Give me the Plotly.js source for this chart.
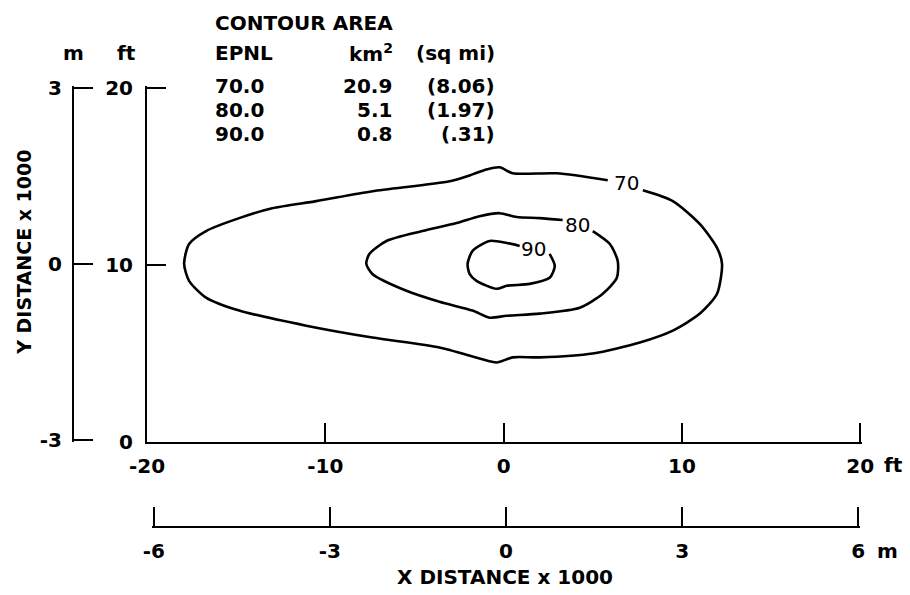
<!DOCTYPE html>
<html>
<head>
<meta charset="utf-8">
<script src="https://cdn.plot.ly/plotly-3.0.1.min.js"></script>
<style>html,body{margin:0;padding:0;background:#fff;}#chart{width:910px;height:595px;}</style>
</head>
<body>
<div id="chart"></div>
<script>
// EPNL 70 contour (x, y in thousands of ft)
var c70x = [7.81, 9.49, 11.01, 11.97, 12.25, 11.97, 11.01, 9.49, 7.64, 5.0, 2.02, 0.51, -0.39, -1.35, -3.6, -7.36, -11.07, -14.83, -16.69, -17.64, -17.92, -17.64, -16.69, -14.83, -12.98, -10.51, -7.36, -3.03, -1.74, -0.96, -0.22, 0.51, 2.98, 5.84];
var c70y = [14.21, 13.6, 12.3, 10.96, 10.06, 8.37, 7.25, 6.29, 5.62, 5.0, 4.78, 4.78, 4.49, 4.72, 5.34, 5.9, 6.57, 7.42, 8.15, 9.1, 10.06, 11.18, 11.91, 12.64, 13.2, 13.6, 14.16, 14.72, 15.11, 15.39, 15.51, 15.17, 15.17, 14.78];
// EPNL 80 contour
var c80x = [5.0, 5.96, 6.4, 6.35, 5.56, 4.27, 2.02, 0.17, -0.79, -1.74, -3.6, -5.45, -7.36, -7.7, -7.53, -6.57, -4.55, -2.64, -1.35, -0.22, 0.73, 2.02, 3.31];
var c80y = [11.91, 11.18, 10.22, 9.27, 8.37, 7.58, 7.25, 7.13, 7.02, 7.42, 7.92, 8.54, 9.49, 10.06, 10.62, 11.35, 11.91, 12.36, 12.75, 12.92, 12.7, 12.64, 12.53];
// EPNL 90 contour
var c90x = [2.58, 2.87, 2.58, 1.46, 0.17, -0.39, -1.52, -1.91, -2.02, -1.74, -0.79, 0.17, 0.9];
var c90y = [10.62, 9.94, 9.27, 8.93, 8.82, 8.65, 9.1, 9.49, 10.06, 10.79, 11.35, 11.24, 11.07];

// contour area table
var epnl = ["70.0", "80.0", "90.0"];
var areaKm2 = ["20.9", "5.1", "0.8"];
var areaSqMi = ["(8.06)", "(1.97)", "(.31)"];
var contourLabels = ["70", "80", "90"];

// axis ticks
var xFtTicks = [-20, -10, 0, 10, 20];
var xFtText = ["-20", "-10", "0", "10", "20"];
var xMTicks = [-6, -3, 0, 3, 6];
var xMText = ["-6", "-3", "0", "3", "6"];
var yFtTicks = [0, 10, 20];
var yFtText = ["0", "10", "20"];
var yMTicks = [-3, 0, 3];
var yMText = ["-3", "0", "3"];

var FONT = "DejaVu Sans";
var bold = {family: FONT, size: 20, color: "#000", weight: "bold"};

var lineStyle = {color: "#000", width: 2.6, shape: "spline", smoothing: 0.7};
var traces = [
  {x: c70x, y: c70y, type: "scatter", mode: "lines", line: lineStyle, hoverinfo: "skip"},
  {x: c80x, y: c80y, type: "scatter", mode: "lines", line: lineStyle, hoverinfo: "skip"},
  {x: c90x, y: c90y, type: "scatter", mode: "lines", line: lineStyle, hoverinfo: "skip"},
  // empty trace so that the metre axes are drawn
  {x: [], y: [], type: "scatter", mode: "lines", xaxis: "x2", yaxis: "y2", hoverinfo: "skip"}
];

function ann(text, x, y, xanchor, extra) {
  var a = {text: text, x: x, y: y, xref: "paper", yref: "paper", xanchor: xanchor, yanchor: "middle",
           showarrow: false, font: bold};
  for (var k in extra) a[k] = extra[k];
  return a;
}

var rowsY = [1.0, 0.9456, 0.8912];
var annotations = [
  ann("CONTOUR AREA", 0.1774, 1.1429, "left"),
  ann("EPNL", 0.1774, 1.0748, "left"),
  ann("km<sup>2</sup>", 0.3473, 1.0748, "left"),
  ann("(sq mi)", 0.5374, 1.0748, "right"),
  ann("m", 0.0, 1.0748, "center"),
  ann("ft", 0.0684, 1.0748, "center"),
  ann("ft", 1.0393, 0.1406, "center"),
  ann("m", 1.0317, -0.0544, "center"),
  ann("X DISTANCE x 1000", 0.5475, -0.1134, "center"),
  ann("Y DISTANCE x 1000", -0.062, 0.622, "center", {textangle: -90, font: {family: FONT, size: 19, color: "#000", weight: "bold"}})
];
for (var i = 0; i < epnl.length; i++) {
  annotations.push(ann(epnl[i], 0.1774, rowsY[i], "left"));
  annotations.push(ann(areaKm2[i], 0.4068, rowsY[i], "right"));
  annotations.push(ann(areaSqMi[i], 0.5374, rowsY[i], "right"));
}
var labelPos = [[6.91, 14.6], [4.16, 12.25], [1.69, 10.9]];
for (var j = 0; j < contourLabels.length; j++) {
  annotations.push({text: contourLabels[j], x: labelPos[j][0], y: labelPos[j][1], xref: "x", yref: "y",
    showarrow: false, xanchor: "center", yanchor: "middle",
    font: {family: FONT, size: 20, color: "#000"}});
}

var axisCommon = {showline: true, linecolor: "#000", linewidth: 2, ticks: "inside", ticklen: 19,
  tickwidth: 2, tickcolor: "#000", showgrid: false, zeroline: false, tickmode: "array",
  tickfont: bold, fixedrange: true};

function ax(extra) { var o = {}; for (var k in axisCommon) o[k] = axisCommon[k]; for (var k2 in extra) o[k2] = extra[k2]; return o; }

var layout = {
  width: 910, height: 595,
  margin: {l: 73, r: 48, t: 86, b: 68, pad: 0},
  paper_bgcolor: "#fff", plot_bgcolor: "rgba(0,0,0,0)",
  showlegend: false, hovermode: false,
  xaxis: ax({domain: [0.0938, 1], range: [-20, 20.1], anchor: "y", tickvals: xFtTicks, ticktext: xFtText, ticklabelstandoff: 5}),
  yaxis: ax({domain: [0.1927, 1], range: [0, 20.1], anchor: "x", tickvals: yFtTicks, ticktext: yFtText, ticklabelstandoff: 8}),
  xaxis2: ax({domain: [0.1001, 0.9975], range: [-6.03, 6.03], anchor: "free", position: 0, tickvals: xMTicks, ticktext: xMText, ticklabelstandoff: 6}),
  yaxis2: ax({domain: [0.1927, 1], range: [-3.03, 3.03], anchor: "free", position: 0, side: "left", tickvals: yMTicks, ticktext: yMText, ticklabelstandoff: 6}),
  annotations: annotations
};

Plotly.newPlot("chart", traces, layout, {staticPlot: true, displayModeBar: false});
</script>
</body>
</html>
